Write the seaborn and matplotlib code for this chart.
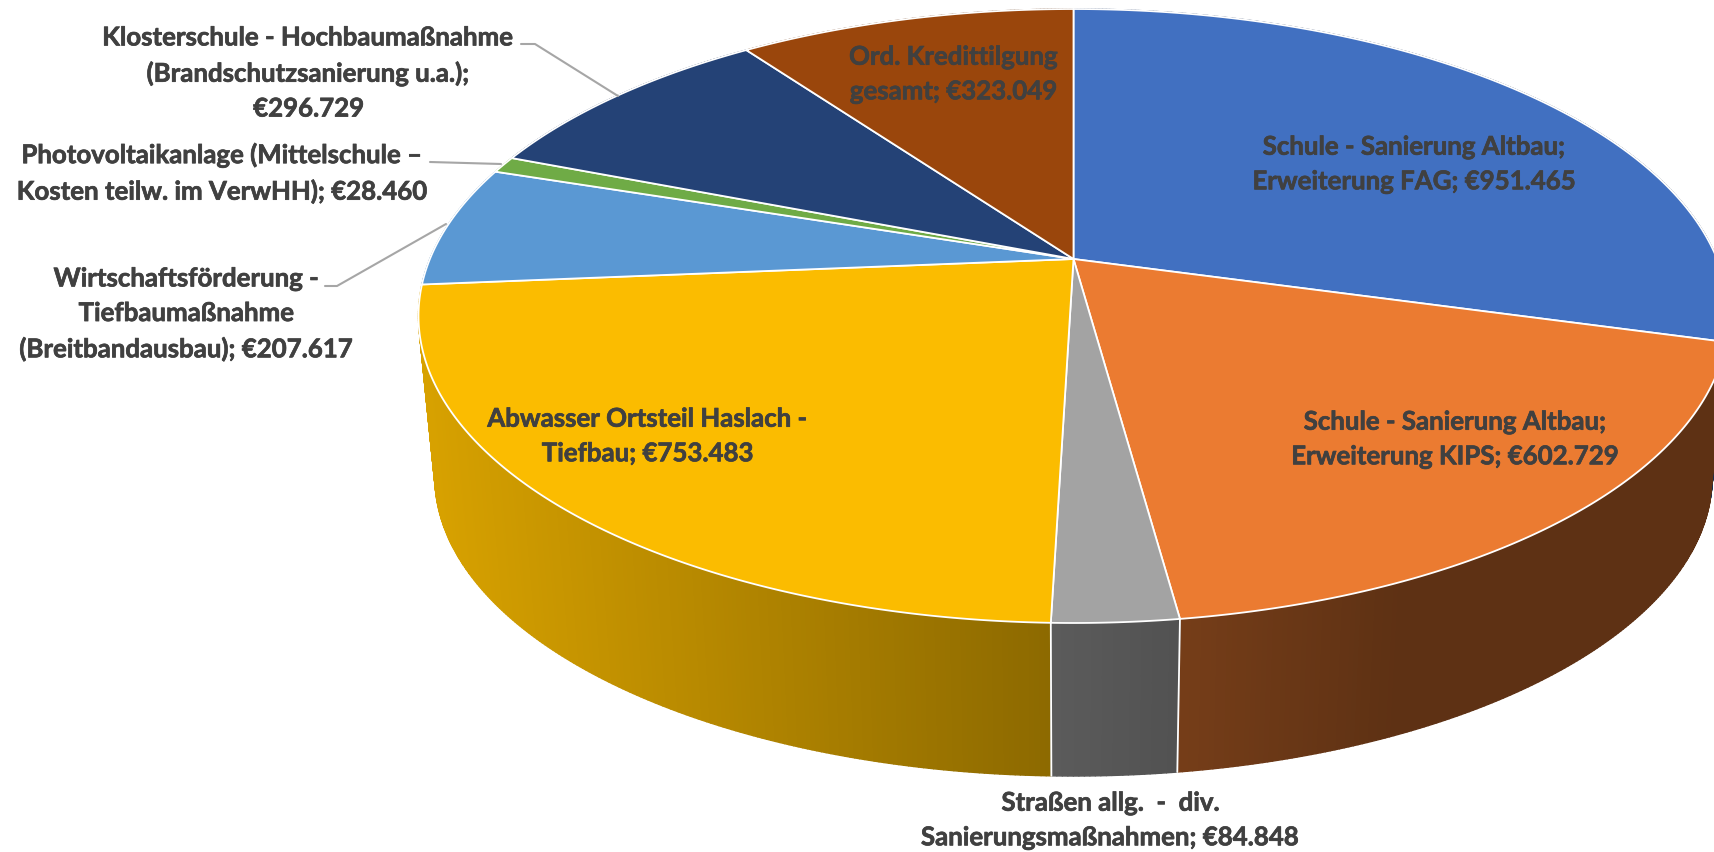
import numpy as np
import seaborn as sns
import matplotlib.pyplot as plt
import matplotlib.patheffects as pe
from matplotlib.collections import PolyCollection
from matplotlib.patches import Polygon

# values in euro, clockwise from 12 o'clock
projekte = ['Schule FAG', 'Schule KIPS', 'Strassen', 'Abwasser',
            'Wirtschaftsfoerderung', 'Photovoltaik', 'Klosterschule', 'Kredittilgung']
werte = [951465, 602729, 84848, 753483, 207617, 28460, 296729, 323049]
farben = ['#4170C1', '#EB7B31', '#A3A3A3', '#FBBC00', '#5A98D3', '#6FAB46', '#244276', '#9A460C']

labels = [
    'Schule - Sanierung Altbau;\nErweiterung FAG; €951.465',
    'Schule - Sanierung Altbau;\nErweiterung KIPS; €602.729',
    'Straßen allg.  -  div.\nSanierungsmaßnahmen; €84.848',
    'Abwasser Ortsteil Haslach -\nTiefbau; €753.483',
    'Wirtschaftsförderung -\nTiefbaumaßnahme\n(Breitbandausbau); €207.617',
    'Photovoltaikanlage (Mittelschule –\nKosten teilw. im VerwHH); €28.460',
    'Klosterschule - Hochbaumaßnahme\n(Brandschutzsanierung u.a.);\n€296.729',
    'Ord. Kredittilgung\ngesamt; €323.049',
]
label_pos = [(1415, 164), (1456, 439), (1111, 820), (648, 436),
             (187, 314), (223, 173), (309, 73), (954, 74)]

sns.set_theme(style='white')
plt.rcParams['font.family'] = ['Lato', 'DejaVu Sans']

# perspective of the pie, in pixels
cx, cy = 1073.5, 259
A, B, k = 643.6, 296.4, 0.1857
s, vy = 0.975, 6744


def oben(theta):
    X, Y = np.sin(theta), np.cos(theta)
    w = 1 + k * Y
    return cx + A * X / w, cy - B * Y / w


def unten(theta):
    x, y = oben(theta)
    return cx + s * (x - cx), vy - s * (vy - y)


def shade(x):
    return np.interp(x, [420, 1052, 1181, 1400], [0.86, 0.56, 0.50, 0.40])


grenzen = 2 * np.pi * np.r_[0, np.cumsum(werte)] / np.sum(werte)
palette = sns.color_palette(farben)

fig = plt.figure(figsize=(17.14, 8.52), dpi=100)
ax = fig.add_axes([0, 0, 1, 1])
ax.set_xlim(0, 1714)
ax.set_ylim(852, 0)
ax.axis('off')

# side wall, small strips so the shading can run across it
quads, quad_cols, quad_y = [], [], []
for i, c in enumerate(palette):
    t = np.linspace(grenzen[i], grenzen[i + 1], max(int((grenzen[i + 1] - grenzen[i]) * 150), 3))
    for a, b in zip(t[:-1], t[1:]):
        xa, ya = oben(a)
        xb, yb = oben(b)
        xc, yc = unten(b)
        xd, yd = unten(a)
        quads.append([(xa, ya), (xb, yb), (xc, yc), (xd, yd)])
        quad_cols.append(np.array(c) * shade((xa + xb) / 2))
        quad_y.append(ya)
order = np.argsort(quad_y)
ax.add_collection(PolyCollection([quads[j] for j in order],
                                 facecolors=[quad_cols[j] for j in order],
                                 edgecolors=[quad_cols[j] for j in order], linewidths=1.0))

# white seams on the wall at the front
for g in grenzen[1:-1]:
    if abs(np.sin(g)) < 0.5 and np.cos(g) < 0:
        xa, ya = oben(g)
        xd, yd = unten(g)
        ax.plot([xa, xd], [ya, yd], color='white', lw=1.3, zorder=3)

# top faces
for i, c in enumerate(palette):
    t = np.linspace(grenzen[i], grenzen[i + 1], 200)
    x, y = oben(t)
    pts = np.column_stack([np.r_[cx, x], np.r_[cy, y]])
    ax.add_patch(Polygon(pts, closed=True, facecolor=c, edgecolor='white', lw=1.3,
                         joinstyle='round', zorder=4))

# leader lines
leader = [([521, 535, 618], [44, 44, 96]),
          ([430, 501], [162, 164]),
          ([325, 337, 446], [286, 286, 224])]
for lx, ly in leader:
    ax.plot(lx, ly, color='#A6A6A6', lw=1.5, zorder=5)

for text, (lx, ly) in zip(labels, label_pos):
    ax.text(lx, ly, text, ha='center', va='center', fontsize=18.6, fontweight='bold',
            color='#404040', linespacing=1.53, zorder=6,
            path_effects=[pe.withStroke(linewidth=0.5, foreground='#404040')])

fig.savefig('out.png', dpi=100)
